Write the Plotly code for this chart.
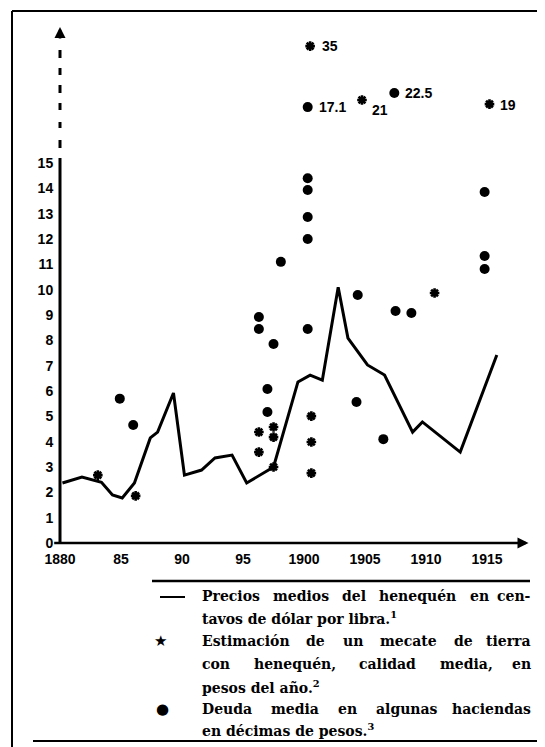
import plotly.graph_objects as go

# ---------------- data ----------------
# Precios medios del henequén (centavos de dólar por libra)
price_years = [1880.2, 1881.8, 1883.4, 1884.3, 1885.1, 1886.1, 1887.4, 1888.0, 1889.3,
               1890.2, 1891.6, 1892.7, 1894.1, 1895.3, 1897.5, 1899.5, 1900.5, 1901.5,
               1902.8, 1903.6, 1905.2, 1906.6, 1908.9, 1909.7, 1912.8, 1915.8]
price_values = [2.37, 2.6, 2.4, 1.9, 1.78, 2.37, 4.15, 4.38, 5.92,
                2.68, 2.88, 3.36, 3.47, 2.37, 3.0, 6.36, 6.63, 6.43,
                10.1, 8.09, 7.03, 6.63, 4.38, 4.78, 3.59, 7.42]

# Estimación de un mecate de tierra (pesos del año)
est_years = [1883.1, 1886.2, 1896.3, 1896.3, 1897.5, 1897.5, 1897.5, 1900.6, 1900.6, 1900.6, 1910.7]
est_values = [2.68, 1.86, 4.38, 3.59, 4.58, 4.18, 3.0, 5.01, 3.99, 2.76, 9.87]

# Deuda media en algunas haciendas (décimas de pesos)
debt_years = [1884.9, 1886.0, 1896.3, 1896.3, 1897.0, 1897.0, 1897.5, 1898.1,
              1900.3, 1900.3, 1900.3, 1900.3, 1900.3, 1904.3, 1904.4, 1906.5,
              1907.5, 1908.8, 1914.8, 1914.8, 1914.8]
debt_values = [5.7, 4.66, 8.92, 8.45, 6.08, 5.17, 7.86, 11.1,
               14.4, 13.94, 12.87, 12.0, 8.45, 5.57, 9.79, 4.1,
               9.16, 9.08, 13.86, 11.33, 10.82]

# values beyond the broken axis (drawn above 15, labelled)
est_off_years = [1900.5, 1904.75, 1915.2]
est_off_values = [35, 21, 19]
est_off_shown = [19.62, 17.49, 17.33]
debt_off_years = [1900.3, 1907.4]
debt_off_values = [17.1, 22.5]
debt_off_shown = [17.21, 17.77]

x_tickvals = [1880, 1885, 1890, 1895, 1900, 1905, 1910, 1915]
x_ticktext = ["1880", "85", "90", "95", "1900", "1905", "1910", "1915"]
y_tickvals = list(range(0, 16))

# ---------------- layout geometry ----------------
# the page body has an 8px margin, so the figure is 8px smaller and coordinates
# below are given in page pixels and converted.
OFF = 8
W, H = 545 - OFF, 747 - OFF
L, R, T, B = 60 - OFF, 15, 20 - OFF, 204
X0, X1 = 1880, 1918.52
Y0, Y1 = 0, 20.65
PX_PER_UNIT = 523 / (Y1 - Y0)


def px(x):
    return (x - OFF - L) / (W - L - R)


def py(y):
    return (H - B - (y - OFF)) / (H - T - B)


def yval(y):
    return (543 - y) / PX_PER_UNIT


TICKFONT = dict(family="Liberation Sans", size=14, color="black", weight="bold")
SERIF_SIZE = 14
SERIF = dict(family="DejaVu Serif", size=SERIF_SIZE, color="black", weight="bold")

# approximate DejaVu Serif advance widths (1/1000 em), bold ~ x1.1
GLYPH_W = {" ": 318, "a": 596, "b": 640, "c": 560, "d": 640, "e": 592, "é": 592, "g": 640,
           "h": 644, "i": 320, "l": 320, "m": 948, "n": 644, "o": 602, "ó": 602, "p": 640,
           "q": 640, "r": 478, "s": 513, "t": 402, "u": 644, ",": 318, "-": 338,
           "D": 770, "E": 730, "P": 677}


def text_w(s):
    return sum(GLYPH_W.get(ch, 600) for ch in s) * SERIF_SIZE / 1000 * 1.1


fig = go.Figure()

fig.add_trace(go.Scatter(x=price_years, y=price_values, mode="lines",
                         line=dict(color="black", width=3),
                         name="Precios medios del henequén", showlegend=False))
fig.add_trace(go.Scatter(x=est_years + est_off_years, y=est_values + est_off_shown,
                         mode="markers",
                         marker=dict(symbol="asterisk-open", size=8, color="black",
                                     line=dict(color="black", width=2.6)),
                         name="Estimación de un mecate", showlegend=False))
fig.add_trace(go.Scatter(x=debt_years + debt_off_years, y=debt_values + debt_off_shown,
                         mode="markers", marker=dict(symbol="circle", size=10, color="black"),
                         name="Deuda media", showlegend=False))

annotations = []
label_shift = [(10, 0), (8, 10), (9, 1)]
for xv, yv, v, (dx, dy) in zip(est_off_years, est_off_shown, est_off_values, label_shift):
    annotations.append(dict(x=xv, y=yv, text=f"{v:g}", showarrow=False, xanchor="left",
                            yanchor="middle", xshift=dx, yshift=-dy, font=TICKFONT))
for xv, yv, v in zip(debt_off_years, debt_off_shown, debt_off_values):
    annotations.append(dict(x=xv, y=yv, text=f"{v:g}", showarrow=False, xanchor="left",
                            yanchor="middle", xshift=9, font=TICKFONT))

# x axis with arrow
annotations.append(dict(x=1918.4, y=0, ax=1879.4, ay=0, axref="x", ayref="y", xref="x", yref="y",
                        text="", showarrow=True, arrowhead=2, arrowsize=0.85, arrowwidth=2.6,
                        arrowcolor="black"))
# y axis arrow head (top)
annotations.append(dict(x=X0, y=yval(27), ax=X0, ay=yval(40), axref="x", ayref="y",
                        xref="x", yref="y", text="", showarrow=True, arrowhead=2,
                        arrowsize=0.85, arrowwidth=2.6, arrowcolor="black"))

# legend text; full lines are justified between x=200 and x=533
LEFT, RIGHT = 200, 533
legend_rows = [
    (596, "Precios medios del henequén en cen-", True),
    (618, "tavos de dólar por libra.<sup>1</sup>", False),
    (641, "Estimación de un mecate de tierra", True),
    (664, "con henequén, calidad media, en", True),
    (687, "pesos del año.<sup>2</sup>", False),
    (709, "Deuda media en algunas haciendas", True),
    (730, "en décimas de pesos.<sup>3</sup>", False),
]
for yc, line, justified in legend_rows:
    if not justified:
        annotations.append(dict(x=px(LEFT), y=py(yc), xref="paper", yref="paper", text=line,
                                showarrow=False, xanchor="left", yanchor="middle", font=SERIF))
        continue
    words = line.split(" ")
    widths = [text_w(w) for w in words]
    gap = (RIGHT - LEFT - sum(widths)) / (len(words) - 1)
    xpos = LEFT
    for i, (w, ww) in enumerate(zip(words, widths)):
        last = i == len(words) - 1
        annotations.append(dict(x=px(RIGHT if last else xpos), y=py(yc), xref="paper",
                                yref="paper", text=w, showarrow=False,
                                xanchor="right" if last else "left", yanchor="middle",
                                font=SERIF))
        xpos += ww + gap

annotations.append(dict(x=px(160), y=py(641), xref="paper", yref="paper", text="★",
                        showarrow=False, xanchor="center", yanchor="middle",
                        font=dict(family="DejaVu Sans", size=15, color="black")))
annotations.append(dict(x=px(162), y=py(709), xref="paper", yref="paper", text="●",
                        showarrow=False, xanchor="center", yanchor="middle",
                        font=dict(family="DejaVu Sans", size=15, color="black")))


def hline(x0, x1, y, width):
    return dict(type="line", xref="paper", yref="paper", x0=px(x0), x1=px(x1),
                y0=py(y), y1=py(y), line=dict(color="black", width=width))


def vline(x, y0, y1, width):
    return dict(type="line", xref="paper", yref="paper", x0=px(x), x1=px(x),
                y0=py(y0), y1=py(y1), line=dict(color="black", width=width))


shapes = [
    vline(60, 543, 158, 3),        # y axis, solid part
    hline(12, 545, 11, 2),         # frame top
    vline(12, 11, 747, 2),         # frame left
    hline(33, 545, 741, 2),        # frame bottom
    hline(152, 530, 581, 2.5),     # separator above the legend
    hline(160, 185, 597, 2),       # legend line sample
]
# dashed extension of the y axis (broken scale)
for top, bottom in [(50, 58), (68, 75), (85, 93), (103, 110), (122, 128), (140, 148)]:
    shapes.append(vline(60, bottom, top, 3))

fig.update_layout(
    width=W, height=H,
    margin=dict(l=L, r=R, t=T, b=B, pad=0),
    paper_bgcolor="white", plot_bgcolor="white",
    showlegend=False,
    annotations=annotations, shapes=shapes,
    xaxis=dict(range=[X0, X1], tickvals=x_tickvals, ticktext=x_ticktext,
               showgrid=False, zeroline=False, showline=False,
               ticks="outside", ticklen=3, tickcolor="rgba(0,0,0,0)", tickfont=TICKFONT),
    yaxis=dict(range=[Y0, Y1], tickvals=y_tickvals,
               showgrid=False, zeroline=False, showline=False,
               ticks="outside", ticklen=3, tickcolor="rgba(0,0,0,0)", tickfont=TICKFONT),
)

fig.write_html("out.html")
